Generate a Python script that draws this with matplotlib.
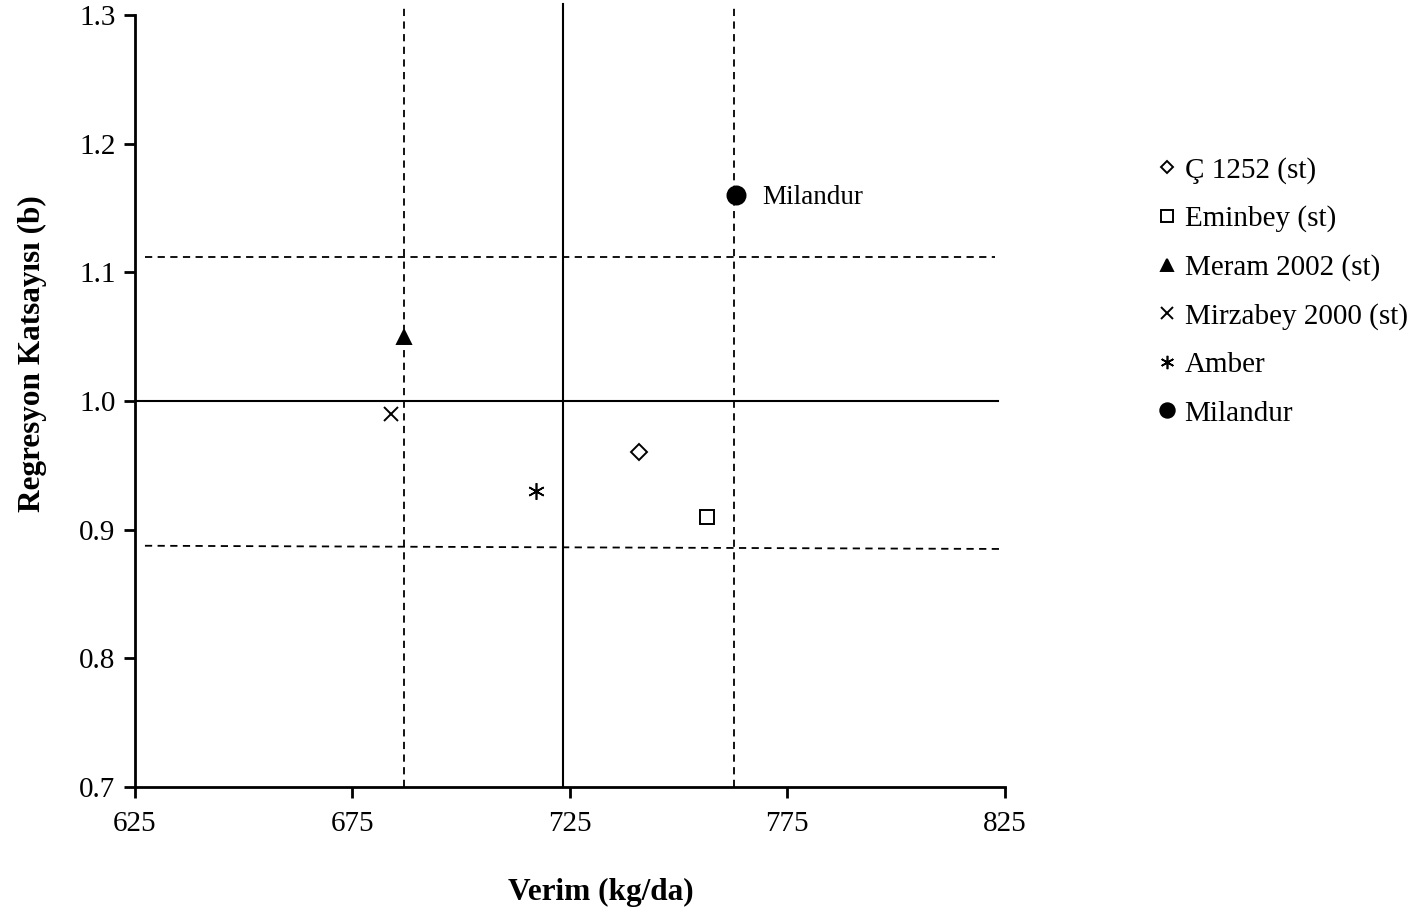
import matplotlib
matplotlib.use('Agg')
import matplotlib.pyplot as plt

# Verim ve regresyon katsayısı değerleri
cesitler = ['Ç 1252 (st)', 'Eminbey (st)', 'Meram 2002 (st)', 'Mirzabey 2000 (st)', 'Amber', 'Milandur']
verim = [740.9, 756.6, 686.9, 683.9, 717.2, 763.2]
regresyon = [0.96, 0.91, 1.05, 0.99, 0.93, 1.16]
isaretler = ['D', 's', '^', 'x', (6, 2, 0), 'o']
boyutlar = [8, 10, 10, 10, 12, 13]
kalinlik = [1.4, 1.4, 1.4, 1.4, 1.2, 1.4]
dolgu = ['white', 'white', 'black', 'black', 'black', 'black']

# Ortalama çizgileri ve güven sınırları
ort_verim = 723.4
ort_b = 1.0
verim_sinir = [686.9, 762.85]
b_ust = [1.112, 1.112]
b_alt = [0.8875, 0.885]

plt.rcParams['font.family'] = ['Liberation Serif', 'DejaVu Serif']

fig = plt.figure(figsize=(14.28, 9.13), dpi=100)
ax = fig.add_axes([0.0945, 0.138, 0.609, 0.8456])

# çizgiler
ax.plot([625, 823.5], [ort_b, ort_b], color='black', lw=1.5, clip_on=False)
ax.plot([ort_verim, ort_verim], [0.7, 1.3086], color='black', lw=1.5, clip_on=False)
for v in verim_sinir:
    ax.plot([v, v], [0.7, 1.3086], color='black', lw=1.3, ls=(0, (4, 3)), clip_on=False)
ax.plot([627.3, 822.8], b_ust, color='black', lw=1.3, ls=(0, (4, 3)), clip_on=False)
ax.plot([627.3, 824], b_alt, color='black', lw=1.3, ls=(0, (4, 3)), clip_on=False)

for i in range(len(cesitler)):
    ax.plot(verim[i], regresyon[i], linestyle='none', marker=isaretler[i], markersize=boyutlar[i],
            markerfacecolor=dolgu[i], markeredgecolor='black', markeredgewidth=kalinlik[i],
            label=cesitler[i], clip_on=False, zorder=5)

ax.text(verim[5] + 6, regresyon[5] - 0.002, 'Milandur', fontsize=19.5, va='center', ha='left')

ax.set_xlim(625, 825)
ax.set_ylim(0.7, 1.3)
ax.set_xticks([625, 675, 725, 775, 825])
ax.set_yticks([0.7, 0.8, 0.9, 1.0, 1.1, 1.2, 1.3])
ax.set_yticklabels(['0.7', '0.8', '0.9', '1.0', '1.1', '1.2', '1.3'])
ax.tick_params(labelsize=21, width=2, length=8, direction='out')
ax.tick_params(axis='x', pad=9)
ax.tick_params(axis='y', pad=6)
ax.spines['top'].set_visible(False)
ax.spines['right'].set_visible(False)
ax.spines['left'].set_linewidth(2)
ax.spines['bottom'].set_linewidth(2)

ax.set_xlabel('Verim (kg/da)', fontsize=22.5, fontweight='bold')
ax.set_ylabel('Regresyon Katsayısı (b)', fontsize=22.5, fontweight='bold')
ax.xaxis.set_label_coords(0.5354, -0.118)
ax.yaxis.set_label_coords(-0.1012, 0.561)

fig.legend(loc='upper left', bbox_to_anchor=(0.801, 0.8444), frameon=False, fontsize=21,
           handlelength=0.6, handletextpad=0.3, labelspacing=0.75, borderpad=0,
           markerscale=0.8)

fig.savefig('out.png', dpi=100)
